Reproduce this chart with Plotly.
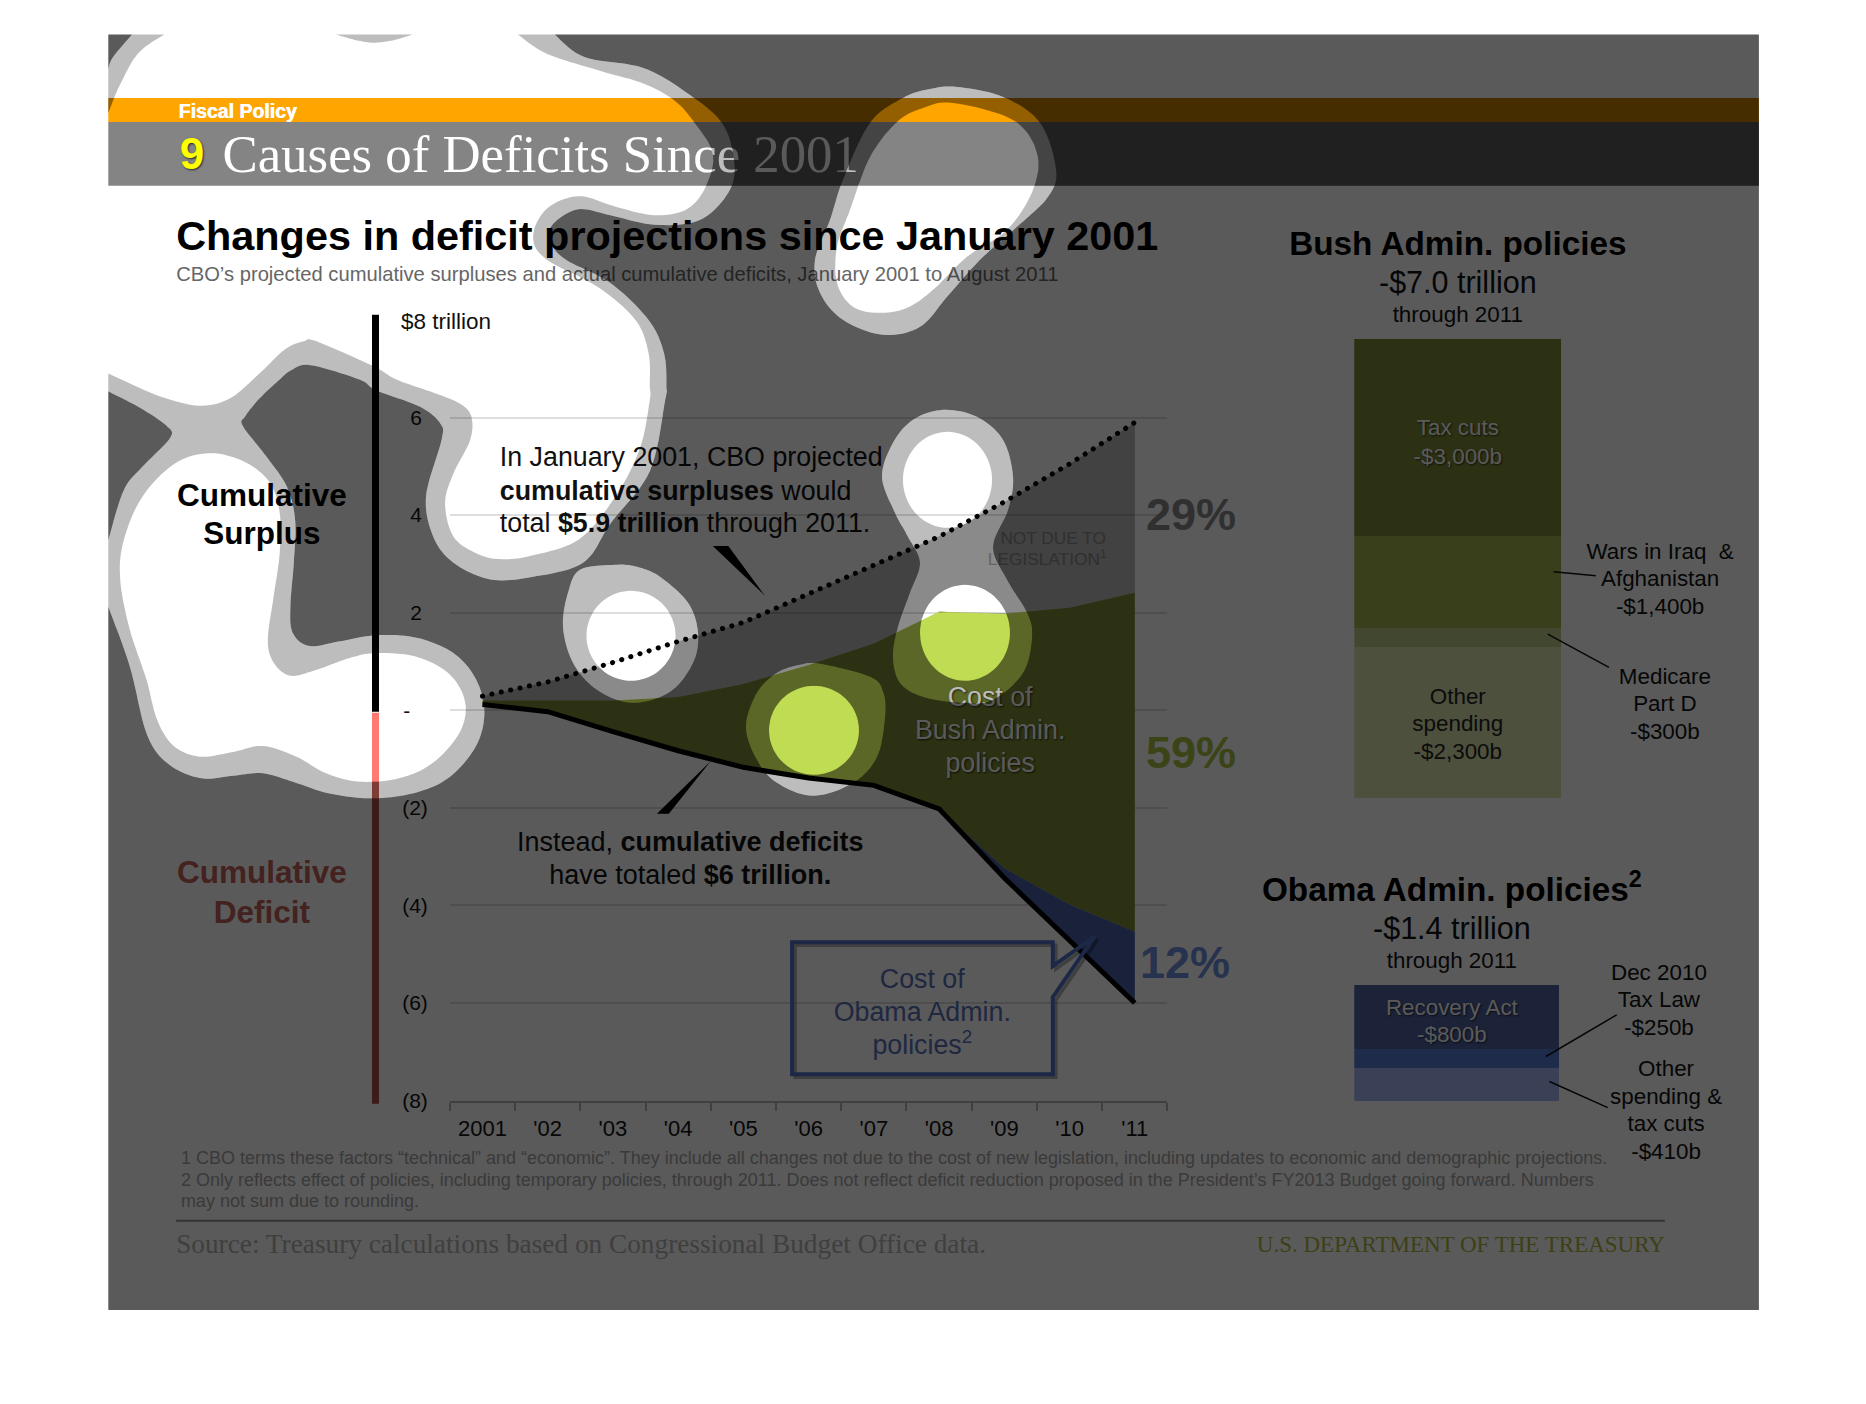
import numpy as np
from plotly import graph_objects as go

# Chart values
years = list(range(2001, 2012))
year_labels = ["2001", "'02", "'03", "'04", "'05", "'06", "'07", "'08", "'09", "'10", "'11"]
projected = [0.29, 0.58, 0.98, 1.41, 1.80, 2.39, 2.98, 3.56, 4.27, 5.05, 5.90]
bush_top = [0.20, 0.20, 0.20, 0.27, 0.54, 0.93, 1.37, 2.02, 1.98, 2.10, 2.41]
bush_bottom = [0.12, -0.03, -0.44, -0.83, -1.17, -1.39, -1.54, -2.02, -3.24, -3.98, -4.54]
actual = [0.12, -0.03, -0.44, -0.83, -1.17, -1.39, -1.54, -2.02, -3.44, -4.71, -6.00]

y_ticks = [8, 6, 4, 2, 0, -2, -4, -6, -8]
y_tick_labels = ["\u00a0", "6\u00a0", "4\u00a0", "2\u00a0", "-\u00a0\u00a0\u00a0", "(2)", "(4)", "(6)", "(8)"]

bush_items = ["Tax cuts", "Wars", "Medicare Part D", "Other spending"]
bush_values = [3000, 1400, 300, 2300]
bush_colors = ["#7f8b36", "#a1b24c", "#bbcc88", "#dae3aa"]
obama_items = ["Recovery Act", "Dec 2010 Tax Law", "Other"]
obama_values = [800, 250, 410]
obama_colors = ["#4f63a1", "#587ad4", "#a4b5f1"]

S = 1866 / 1568  # outlines below were measured on the smaller preview


def smooth(pts, closed=False, n=10):
    p = np.array(pts, dtype=float)
    if closed:
        p = np.vstack([p[-1], p, p[0], p[1]])
    else:
        p = np.vstack([p[0], p, p[-1]])
    out = []
    for i in range(1, len(p) - 2):
        for t in np.linspace(0, 1, n, endpoint=False):
            a, b, c, d = p[i - 1], p[i], p[i + 1], p[i + 2]
            out.append(0.5 * (2 * b + (c - a) * t + (2 * a - 5 * b + 4 * c - d) * t ** 2
                              + (3 * b - a - 3 * c + d) * t ** 3))
    if not closed:
        out.append(p[-2])
    return np.array(out)


def ellipse(cx, cy, rx, ry):
    t = np.linspace(0, 2 * np.pi, 80, endpoint=False)
    return np.c_[cx + rx * np.cos(t), cy + ry * np.sin(t)] / S


def round_real(pts):
    return smooth(pts, closed=True) / S


hole_main = np.vstack([
    smooth([(435, 29), (459, 45), (502, 59), (540, 70), (566, 84), (582, 101), (599, 129), (593, 157),
            (577, 176), (550, 181), (518, 174), (486, 165), (459, 176), (448, 199), (459, 218), (502, 241),
            (534, 269), (545, 297), (546, 325), (546, 336), (538, 376), (518, 416), (487, 453), (447, 467),
            (420, 470), (400, 465), (381, 451), (374, 423), (381, 398), (395, 370), (396, 350), (386, 339),
            (364, 330), (333, 319), (314, 308), (266, 287), (255, 287), (239, 294), (218, 314), (193, 335),
            (167, 341), (134, 333), (102, 319), (91, 314)]),
    smooth([(91, 95), (100, 73), (116, 45), (138, 29)]),
])
hole_lower = smooth([(178, 381), (207, 389), (227, 406), (235, 431), (235, 465), (230, 501), (225, 538),
                     (230, 557), (244, 568), (266, 563), (294, 553), (316, 549), (350, 552), (378, 567),
                     (391, 591), (386, 616), (364, 641), (336, 654), (302, 657), (274, 650), (249, 636),
                     (221, 627), (196, 632), (168, 636), (146, 627), (132, 605), (123, 571), (109, 529),
                     (101, 487), (104, 454), (120, 417), (148, 389)], closed=True)
outer_main = np.vstack([
    smooth([(466, 29), (491, 48), (540, 57), (577, 78), (607, 104), (617, 137), (612, 162), (588, 185),
            (550, 189), (513, 181), (486, 176), (465, 188), (462, 202), (475, 218), (513, 238), (545, 269),
            (558, 297), (560, 325), (559, 336), (546, 396), (513, 440), (490, 473), (447, 485), (412, 487),
            (381, 473), (364, 451), (358, 417), (371, 370), (370, 356), (353, 342), (316, 328), (302, 319),
            (261, 307), (245, 311), (235, 319), (218, 335), (206, 350), (204, 358), (224, 384), (241, 409),
            (248, 437), (247, 471), (244, 510), (246, 532), (260, 543), (286, 539), (316, 534), (350, 536),
            (381, 549), (400, 571), (407, 599), (400, 627), (378, 653), (350, 666), (314, 671), (277, 667),
            (249, 658), (221, 650), (196, 652), (168, 654), (140, 641), (123, 616), (109, 560), (91, 510)]),
    smooth([(91, 454), (104, 412), (120, 392), (143, 368), (140, 358), (118, 343), (91, 329)]),
    smooth([(91, 58), (95, 48), (111, 29)]),
])
# these ones measured in full-size pixels
hole_pear = round_real([(953, 103), (1013, 120), (1037, 153), (1033, 190), (1007, 230), (967, 257), (933, 290), (907, 308),
                        (880, 313), (853, 307), (837, 283), (837, 247), (850, 210), (870, 157), (897, 122), (923, 108)])
outer_pear = round_real([(957, 87), (1003, 97), (1040, 123), (1056, 170), (1048, 197), (1017, 227), (980, 260), (947, 297),
                         (920, 327), (883, 335), (843, 320), (820, 293), (815, 260), (830, 220), (843, 180), (870, 123),
                         (903, 98), (930, 89)])
hole_03 = ellipse(631, 636, 44.5, 45)
outer_03 = round_real([(615, 565), (637, 567), (660, 577), (688, 603), (698, 633), (693, 663), (670, 692), (632, 703),
                       (597, 690), (573, 663), (563, 627), (568, 593), (580, 570)])
hole_06 = ellipse(814, 730.5, 45, 44.5)
outer_06 = round_real([(820, 664), (870, 677), (883, 692), (885, 717), (877, 757), (853, 783), (813, 796), (777, 783),
                       (757, 760), (746, 727), (757, 693), (777, 673), (800, 665)])
hole_08a = ellipse(947.5, 480, 44.5, 48)
hole_08b = ellipse(965, 633, 45, 48)
outer_08 = round_real([(943, 410), (977, 417), (1003, 440), (1013, 477), (1008, 510), (993, 547), (1007, 580), (1027, 613),
                       (1032, 637), (1023, 673), (993, 700), (963, 703), (923, 697), (900, 683), (893, 657), (898, 627),
                       (910, 593), (920, 563), (908, 537), (895, 513), (882, 477), (893, 443), (913, 420)])
cap_top = smooth([(282, 29), (300, 34), (314, 36), (330, 34), (347, 29)])

PAGE = (91, 29, 1478, 1101)
LINE_DOM = (378 * S, 981 * S, 269 * S, 925 * S)
# the render comes out slightly squeezed in height, this undoes it
Y_GAIN, Y_SHIFT = 1.0165, 12.3


def screen_y(r):
    return Y_GAIN * r - Y_SHIFT


def to_px(poly):
    q = np.array(poly, dtype=float)
    q[:, 0] = np.clip(q[:, 0], PAGE[0], PAGE[2])
    q[:, 1] = np.clip(q[:, 1], PAGE[1], PAGE[3])
    return q * S


def path(*polys):
    d = ""
    for poly in polys:
        d += "M" + "L".join(f"{x:.1f},{y:.1f}" for x, y in poly) + "Z"
    return d


def x_px(v):
    return LINE_DOM[0] + (np.asarray(v, dtype=float) - 2000.5) / 11 * (LINE_DOM[1] - LINE_DOM[0])


def y_px(v):
    return LINE_DOM[2] + (8 - np.asarray(v, dtype=float)) / 16 * (LINE_DOM[3] - LINE_DOM[2])


def area_px(top, bottom):
    xs = x_px(years)
    return np.vstack([np.c_[xs, y_px(top)], np.c_[xs[::-1], y_px(bottom)[::-1]]])


def clamp_to_area(hole, top, bottom):
    q = to_px(hole)
    xs = x_px(years)
    q[:, 1] = np.maximum(q[:, 1], np.interp(q[:, 0], xs, y_px(top)))
    q[:, 1] = np.minimum(q[:, 1], np.interp(q[:, 0], xs, y_px(bottom)))
    return q


def clamp_to_band(hole, y0, y1):
    q = to_px(hole)
    q[:, 1] = np.clip(q[:, 1], y0, y1)
    return q


def signed_area(q):
    return 0.5 * np.sum(q[:, 0] * np.roll(q[:, 1], -1) - np.roll(q[:, 0], -1) * q[:, 1])


def darken(outer, holes, alpha):
    # filled region with holes, the holes wound the other way round
    xs, ys = [], []
    if signed_area(outer) < 0:
        outer = outer[::-1]
    parts = [outer]
    for h in holes:
        parts.append(h[::-1] if signed_area(h) > 0 else h)
    for part in parts:
        xs += list(part[:, 0]) + [part[0, 0], None]
        ys += list(part[:, 1]) + [part[0, 1], None]
    return go.Scatter(x=xs, y=ys, mode="lines", line=dict(width=0), fill="toself",
                      fillcolor=f"rgba(0,0,0,{alpha})", hoverinfo="skip", xaxis="x4", yaxis="y4")


fig = go.Figure()

# Line chart
fig.add_trace(go.Scatter(x=years, y=bush_bottom, mode="lines", line=dict(width=0), hoverinfo="skip"))
fig.add_trace(go.Scatter(x=years, y=bush_top, mode="lines", line=dict(width=0), fill="tonexty",
                         fillcolor="#c0dc52", hoverinfo="skip"))
fig.add_trace(go.Scatter(x=years, y=actual, mode="lines", line=dict(width=0), hoverinfo="skip"))
fig.add_trace(go.Scatter(x=years, y=bush_bottom, mode="lines", line=dict(width=0), fill="tonexty",
                         fillcolor="#4760a4", hoverinfo="skip"))
fig.add_trace(go.Scatter(x=years, y=projected, mode="lines", line=dict(color="black", width=5, dash="0.1px,9.5px"),
                         hoverinfo="skip"))
fig.add_trace(go.Scatter(x=years, y=actual, mode="lines", line=dict(color="black", width=5), hoverinfo="skip"))

# Stacked bars
for name, val, col in zip(bush_items, bush_values, bush_colors):
    fig.add_trace(go.Bar(x=[0], y=[val], name=name, marker=dict(color=col, line_width=0), xaxis="x2", yaxis="y2",
                         hoverinfo="skip"))
for name, val, col in zip(obama_items, obama_values, obama_colors):
    fig.add_trace(go.Bar(x=[0], y=[val], name=name, marker=dict(color=col, line_width=0), xaxis="x3", yaxis="y3",
                         hoverinfo="skip"))

# Darker patches that stop at the bright holes
BAND = (98, 122, 186)
page_rect = lambda y0, y1: np.array([[PAGE[0] * S, y0], [PAGE[2] * S, y0], [PAGE[2] * S, y1], [PAGE[0] * S, y1]])
fig.add_trace(darken(area_px(projected, bush_top),
                     [clamp_to_area(h, projected, bush_top) for h in (hole_03, hole_08a, hole_08b, hole_06)], 0.27))
fig.add_trace(darken(area_px(bush_top, bush_bottom),
                     [clamp_to_area(h, bush_top, bush_bottom) for h in (hole_06, hole_08b)], 0.36))
fig.add_trace(darken(page_rect(BAND[0], BAND[1]),
                     [clamp_to_band(h, BAND[0], BAND[1]) for h in (hole_main, hole_pear)], 0.22))
fig.add_trace(darken(page_rect(BAND[1], BAND[2]),
                     [clamp_to_band(h, BAND[1], BAND[2]) for h in (hole_main, hole_pear)], 0.30))

# Text: x, y (preview px), text, size, colour, anchor, font, shadow
SANS = "Liberation Sans"
SERIF = "Liberation Serif"
SOFT = "1px 1px 2px rgba(0,0,0,0.7)"
labels = [
    (150, 93, "<b>Fiscal Policy</b>", 19.5, "white", "l", SANS, "0.6px 0 0 white"),
    (151, 129, "<b>9</b>", 44, "#ffff00", "l", SANS, SOFT),
    (187, 129, "Causes of Deficits Since 2001", 52.8, "white", "l", SERIF, ""),
    (148, 198, "<b>Changes in deficit projections since January 2001</b>", 41.4, "black", "l", SANS, ""),
    (148, 230, "CBO\u2019s projected cumulative surpluses and actual cumulative deficits, January 2001 to August 2011",
     20.2, "#666666", "l", SANS, ""),
    (337, 270, "$8 trillion", 22.5, "#111111", "l", SANS, ""),
    (220, 416, "<b>Cumulative</b>", 31.5, "black", "c", SANS, ""),
    (220, 448, "<b>Surplus</b>", 31.5, "black", "c", SANS, ""),
    (220, 733, "<b>Cumulative</b>", 31.5, "#c06058", "c", SANS, ""),
    (220, 766, "<b>Deficit</b>", 31.5, "#c06058", "c", SANS, ""),
    (420, 384, "In January 2001, CBO projected", 26.8, "#111111", "l", SANS, ""),
    (420, 412, "<b>cumulative surpluses</b> would", 26.8, "#111111", "l", SANS, ""),
    (420, 439, "total <b>$5.9 trillion</b> through 2011.", 26.8, "#111111", "l", SANS, ""),
    (580, 707, "Instead, <b>cumulative deficits</b>", 27, "#111111", "c", SANS, ""),
    (580, 735, "have totaled <b>$6 trillion.</b>", 27, "#111111", "c", SANS, ""),
    (832, 585, "Cost of", 26.8, "white", "c", SANS, SOFT),
    (832, 613, "Bush Admin.", 26.8, "white", "c", SANS, SOFT),
    (832, 641, "policies", 26.8, "white", "c", SANS, SOFT),
    (775, 822, "Cost of", 26.8, "#5870b8", "c", SANS, ""),
    (775, 850, "Obama Admin.", 26.8, "#5870b8", "c", SANS, ""),
    (775, 878, "policies<sup>2</sup>", 26.8, "#5870b8", "c", SANS, ""),
    (885, 452, "NOT DUE TO", 17.3, "#888888", "c", SANS, ""),
    (880, 470, "LEGISLATION<sup>1</sup>", 17.3, "#888888", "c", SANS, ""),
    (963, 432, "<b>29%</b>", 45, "#888888", "l", SANS, ""),
    (963, 631.5, "<b>59%</b>", 45, "#a8c040", "l", SANS, ""),
    (958, 808, "<b>12%</b>", 45, "#6f8fe0", "l", SANS, ""),
    (1225, 204, "<b>Bush Admin. policies</b>", 33.3, "black", "c", SANS, ""),
    (1225, 237, "-$7.0 trillion", 30.5, "#111111", "c", SANS, ""),
    (1225, 264, "through 2011", 22.4, "#111111", "c", SANS, ""),
    (1225, 359, "Tax cuts", 22.4, "white", "c", SANS, SOFT),
    (1225, 383, "-$3,000b", 22.4, "white", "c", SANS, SOFT),
    (1225, 585, "Other", 22.4, "#222222", "c", SANS, ""),
    (1225, 608, "spending", 22.4, "#222222", "c", SANS, ""),
    (1225, 631, "-$2,300b", 22.4, "#222222", "c", SANS, ""),
    (1395, 463, "Wars in Iraq\u00a0 &", 22.4, "#111111", "c", SANS, ""),
    (1395, 486, "Afghanistan", 22.4, "#111111", "c", SANS, ""),
    (1395, 509, "-$1,400b", 22.4, "#111111", "c", SANS, ""),
    (1399, 568, "Medicare", 22.4, "#111111", "c", SANS, ""),
    (1399, 591, "Part D", 22.4, "#111111", "c", SANS, ""),
    (1399, 614, "-$300b", 22.4, "#111111", "c", SANS, ""),
    (1220, 747, "<b>Obama Admin. policies<sup>2</sup></b>", 33.3, "black", "c", SANS, ""),
    (1220, 780, "-$1.4 trillion", 30.5, "#111111", "c", SANS, ""),
    (1220, 807, "through 2011", 22.4, "#111111", "c", SANS, ""),
    (1220, 846, "Recovery Act", 22.4, "white", "c", SANS, SOFT),
    (1220, 869, "-$800b", 22.4, "white", "c", SANS, SOFT),
    (1394, 817, "Dec 2010", 22.4, "#111111", "c", SANS, ""),
    (1394, 840, "Tax Law", 22.4, "#111111", "c", SANS, ""),
    (1394, 863, "-$250b", 22.4, "#111111", "c", SANS, ""),
    (1400, 898, "Other", 22.4, "#111111", "c", SANS, ""),
    (1400, 921, "spending &", 22.4, "#111111", "c", SANS, ""),
    (1400, 944, "tax cuts", 22.4, "#111111", "c", SANS, ""),
    (1400, 967, "-$410b", 22.4, "#111111", "c", SANS, ""),
    (152, 973, "1 CBO terms these factors \u201ctechnical\u201d and \u201ceconomic\u201d. They include all changes not due to the cost of new legislation, including updates to economic and demographic projections.",
     18, "#a4a4a4", "l", SANS, ""),
    (152, 991, "2 Only reflects effect of policies, including temporary policies, through 2011. Does not reflect deficit reduction proposed in the President\u2019s FY2013 Budget going forward. Numbers",
     18, "#a4a4a4", "l", SANS, ""),
    (152, 1009, "may not sum due to rounding.", 18, "#a4a4a4", "l", SANS, ""),
    (148, 1045, "Source: Treasury calculations based on Congressional Budget Office data.", 27.3, "#b3b3b3", "l", SERIF, ""),
    (1399, 1045, "U.S. DEPARTMENT OF THE TREASURY", 23, "#adb53c", "r", SERIF, ""),
]
anchor = {"l": "middle right", "c": "middle center", "r": "middle left"}
for x, y, txt, size, col, anc, fam, shadow in labels:
    # plotly centres the line box, so the glyphs sit a little high
    fig.add_trace(go.Scatter(x=[x * S], y=[y * S + 0.11 * size], text=[txt], mode="text", textposition=anchor[anc],
                             textfont=dict(size=size, color=col, family=fam, shadow=shadow or "none"),
                             cliponaxis=False, hoverinfo="skip", xaxis="x4", yaxis="y4"))


def seg(x0, y0, x1, y1, color="#111111", width=1.5):
    return dict(type="line", xref="x4", yref="y4", x0=x0 * S, y0=y0 * S, x1=x1 * S, y1=y1 * S,
                line=dict(color=color, width=width), layer="above")


def poly_shape(pts, fill, line_color=None, width=0, fillrule="evenodd", layer="above"):
    return dict(type="path", xref="x4", yref="y4", path=pts, fillcolor=fill, fillrule=fillrule, layer=layer,
                line=dict(color=line_color or "rgba(0,0,0,0)", width=width))


callout = np.array([(665.6, 792), (884.7, 792), (884.7, 812), (920, 787), (884.7, 838), (884.7, 903), (665.6, 903)]) * S
wedge_top = np.array([(599, 459), (612, 459), (643, 501)]) * S
wedge_low = np.array([(597, 640), (552, 684), (562, 684)]) * S
holes_ring = [to_px(p) for p in (outer_main, hole_main, hole_lower, outer_pear, hole_pear, outer_03, hole_03,
                                 outer_06, hole_06, outer_08, hole_08a, hole_08b)]
outers = [to_px(p) for p in (outer_main, outer_pear, outer_03, outer_06, outer_08)]
page = np.array([(PAGE[0], PAGE[1]), (PAGE[2], PAGE[1]), (PAGE[2], PAGE[3]), (PAGE[0], PAGE[3])]) * S

shapes = [
    dict(type="rect", xref="x4", yref="y4", x0=PAGE[0] * S, x1=PAGE[2] * S, y0=BAND[0], y1=BAND[1],
         fillcolor="#ffa500", line_width=0, layer="below"),
    dict(type="rect", xref="x4", yref="y4", x0=PAGE[0] * S, x1=PAGE[2] * S, y0=BAND[1], y1=BAND[2],
         fillcolor="#848484", line_width=0, layer="below"),
    dict(type="rect", xref="x4", yref="y4", x0=372, x1=379, y0=315, y1=712, fillcolor="black", line_width=0,
         layer="above"),
    dict(type="rect", xref="x4", yref="y4", x0=372, x1=379, y0=713, y1=1104, fillcolor="#ff7a70", line_width=0,
         layer="above"),
    dict(type="rect", xref="x4", yref="y4", x0=372, x1=379, y0=782, y1=1104, fillcolor="rgba(0,0,0,0.33)",
         line_width=0, layer="above"),
    poly_shape(path(callout + 3), "rgba(0,0,0,0)", "rgba(0,0,0,0.3)", 3.5),
    poly_shape(path(callout), "rgba(0,0,0,0)", "#4f71c7", 4),
    poly_shape(path(wedge_top), "black"),
    poly_shape(path(wedge_low), "black"),
    seg(1305.5, 480.5, 1341, 484),
    seg(1300.6, 533, 1352, 561),
    seg(1299, 888, 1358.5, 853),
    seg(1302, 909, 1351, 931),
    seg(148, 1026, 1399, 1026, "#919191", 2),
    # the dark veil over the page, with its soft ring round the clear patches
    poly_shape(path(page, *outers), "rgba(0,0,0,0.647)"),
    poly_shape(path(*holes_ring), "rgba(0,0,0,0.26)"),
    poly_shape(path(to_px(cap_top)), "rgba(0,0,0,0.26)"),
]

W, H = 1866, 1404


def y_domain(top, bottom):
    return [1 - screen_y(bottom) / H, 1 - screen_y(top) / H]


fig.update_layout(
    width=W, height=H, autosize=False,
    margin=dict(l=0, r=0, t=0, b=0),
    paper_bgcolor="white", plot_bgcolor="rgba(0,0,0,0)",
    showlegend=False, hovermode=False,
    barmode="stack", bargap=0,
    shapes=shapes,
    xaxis=dict(domain=[LINE_DOM[0] / W, LINE_DOM[1] / W], range=[2000.5, 2011.5], tickvals=years,
               ticktext=year_labels, ticks="", showgrid=False, zeroline=False, showline=True, linecolor="#b5b5b5",
               linewidth=2, tickfont=dict(family=SANS, size=22, color="#111111"), ticklabelstandoff=7,
               minor=dict(tickvals=[y - 0.5 for y in years] + [2011.5], ticks="outside", ticklen=8, tickwidth=2,
                          tickcolor="#b5b5b5", showgrid=False),
               anchor="y"),
    yaxis=dict(domain=y_domain(LINE_DOM[2], LINE_DOM[3]), range=[-8, 8], tickvals=y_ticks,
               ticktext=y_tick_labels, ticks="", showgrid=True, gridcolor="#dedede", gridwidth=1.5, zeroline=False,
               tickfont=dict(family=SANS, size=21, color="#111111"), ticklabelstandoff=21, anchor="x"),
    xaxis2=dict(domain=[1138 * S / W, 1312 * S / W], range=[-0.5, 0.5], visible=False, anchor="y2"),
    yaxis2=dict(domain=y_domain(285 * S, 671 * S), range=[sum(bush_values), 0], visible=False, anchor="x2"),
    xaxis3=dict(domain=[1138 * S / W, 1310 * S / W], range=[-0.5, 0.5], visible=False, anchor="y3"),
    yaxis3=dict(domain=y_domain(828 * S, 925.5 * S), range=[sum(obama_values), 0], visible=False, anchor="x3"),
    xaxis4=dict(domain=[0, 1], range=[0, W], visible=False, anchor="y4"),
    yaxis4=dict(domain=[0, 1], range=[(H + Y_SHIFT) / Y_GAIN, Y_SHIFT / Y_GAIN], visible=False, anchor="x4"),
)

post = """
document.body.style.margin = '0';
document.querySelectorAll('.scatterlayer .js-line').forEach(function (el) {
  if (el.style.strokeDasharray && el.style.strokeDasharray !== 'none') { el.style.strokeLinecap = 'round'; }
});
"""
fig.write_html("out.html", post_script=post, config={"displayModeBar": False})
